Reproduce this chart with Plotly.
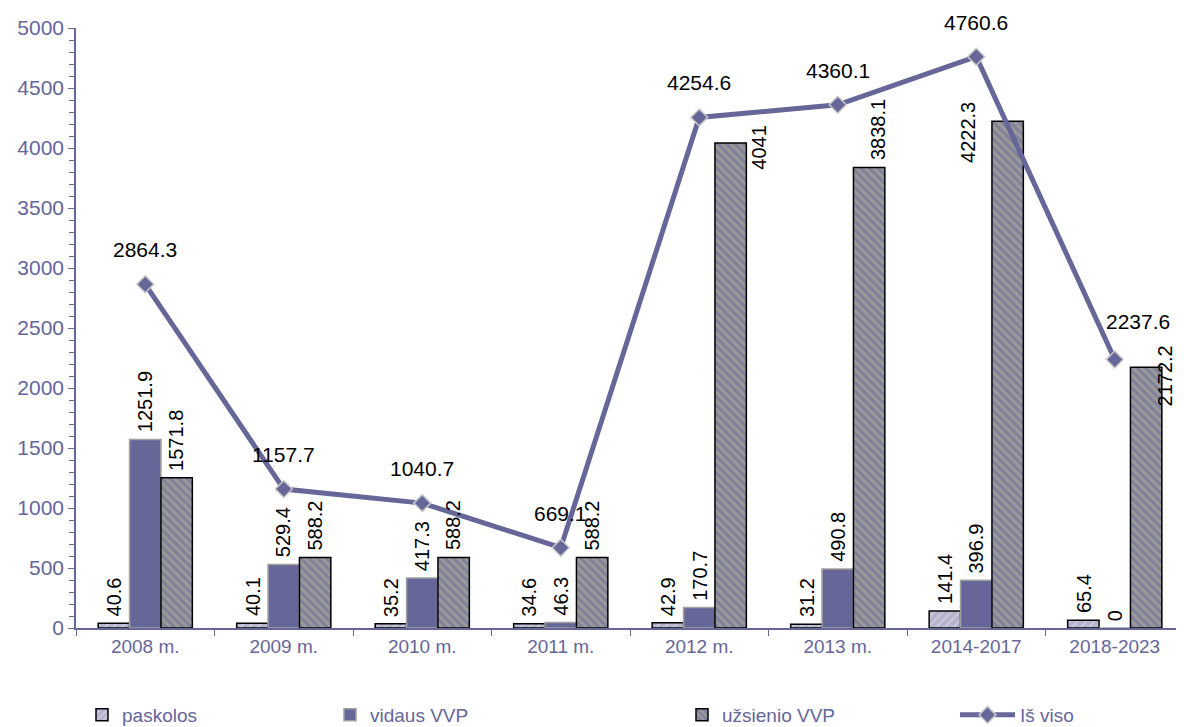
import plotly.graph_objects as go

categories = ["2008 m.", "2009 m.", "2010 m.", "2011 m.", "2012 m.", "2013 m.", "2014-2017", "2018-2023"]
paskolos = [40.6, 40.1, 35.2, 34.6, 42.9, 31.2, 141.4, 65.4]
paskolos_labels = ["40.6", "40.1", "35.2", "34.6", "42.9", "31.2", "141.4", "65.4"]
vidaus = [1571.8, 529.4, 417.3, 46.3, 170.7, 490.8, 396.9, 0]
vidaus_labels = ["1251.9", "529.4", "417.3", "46.3", "170.7", "490.8", "396.9", "0"]
uzsienio = [1251.9, 588.2, 588.2, 588.2, 4041, 3838.1, 4222.3, 2172.2]
uzsienio_labels = ["1571.8", "588.2", "588.2", "588.2", "4041", "3838.1", "4222.3", "2172.2"]
is_viso = [2864.3, 1157.7, 1040.7, 669.1, 4254.6, 4360.1, 4760.6, 2237.6]
is_viso_labels = ["2864.3", "1157.7", "1040.7", "669.1", "4254.6", "4360.1", "4760.6", "2237.6"]
y_ticks = [0, 500, 1000, 1500, 2000, 2500, 3000, 3500, 4000, 4500, 5000]

PURPLE = "#666699"
FONT = "Liberation Sans, Arial, sans-serif"
# page has an 8px body margin, so the figure is drawn 8px smaller than the window
W, H = 1176, 719
ML = 68

# manual label placement tweaks (pixel shifts), as in the original chart
NUDGE = {
    ("uzsienio", 4): dict(dx=28, dy=-4, anchor="middle"),
    ("uzsienio", 5): dict(dx=9, dy=5, anchor="bottom"),
    ("uzsienio", 6): dict(dx=-39, dy=-11, anchor="middle"),
    ("uzsienio", 7): dict(dx=19, dy=-9, anchor="middle"),
    ("total", 7): dict(dx=23, dy=24, anchor="bottom"),
}

fig = go.Figure()

fig.add_trace(go.Bar(
    name="paskolos", x=categories, y=paskolos, legend="legend",
    marker=dict(color="#b4b4cc", line=dict(color="black", width=1.5),
                pattern=dict(shape="/", fgcolor="#e8e8f0", bgcolor="#b4b4cc", size=6, solidity=0.3)),
))
fig.add_trace(go.Bar(
    name="vidaus VVP", x=categories, y=vidaus, legend="legend2",
    marker=dict(color=PURPLE, line=dict(color="#a0a0a0", width=1.5)),
))
fig.add_trace(go.Bar(
    name="užsienio VVP", x=categories, y=uzsienio, legend="legend3",
    marker=dict(color="#9a9a9a", line=dict(color="black", width=1.5),
                pattern=dict(shape="\\", fgcolor=PURPLE, bgcolor="#9a9a9a", size=6, solidity=0.5)),
))
fig.add_trace(go.Scatter(
    name="Iš viso", x=categories, y=is_viso, legend="legend4",
    mode="lines+markers",
    line=dict(color=PURPLE, width=5),
    marker=dict(symbol="diamond", size=13, color=PURPLE, line=dict(color="#c8c8c8", width=1.5)),
    cliponaxis=False,
))

# bar value labels (rotated), placed above each bar
bar_w = (W - ML) / len(categories) * (1 - 0.32) / 3
for key, vals, labels, off in [("paskolos", paskolos, paskolos_labels, -1),
                               ("vidaus", vidaus, vidaus_labels, 0),
                               ("uzsienio", uzsienio, uzsienio_labels, 1)]:
    for i, (c, v, t) in enumerate(zip(categories, vals, labels)):
        n = NUDGE.get((key, i), dict(dx=0, dy=5, anchor="bottom"))
        fig.add_annotation(x=c, y=v, text=t, showarrow=False, textangle=-90,
                           xanchor="center", yanchor=n["anchor"],
                           xshift=off * bar_w + n["dx"], yshift=n["dy"],
                           font=dict(family=FONT, size=20, color="black"))
# total labels
for i, (c, v, t) in enumerate(zip(categories, is_viso, is_viso_labels)):
    n = NUDGE.get(("total", i), dict(dx=0, dy=21, anchor="bottom"))
    fig.add_annotation(x=c, y=v, text=t, showarrow=False,
                       xanchor="center", yanchor=n["anchor"], xshift=n["dx"], yshift=n["dy"],
                       font=dict(family=FONT, size=21, color="black"))

leg_common = dict(orientation="h", xref="container", yref="container", yanchor="middle",
                  y=(H - 707) / H, xanchor="left", bgcolor="rgba(0,0,0,0)",
                  font=dict(family=FONT, size=19, color=PURPLE))
fig.update_layout(
    width=W, height=H,
    margin=dict(l=ML, r=0, t=20, b=99, autoexpand=False),
    plot_bgcolor="white", paper_bgcolor="white",
    barmode="group", bargap=0.32, bargroupgap=0,
    font=dict(family=FONT, size=20, color=PURPLE),
    showlegend=True,
    legend=dict(leg_common, x=74 / W),
    legend2=dict(leg_common, x=322 / W),
    legend3=dict(leg_common, x=674 / W),
    legend4=dict(leg_common, x=947 / W, itemwidth=55),
)
fig.update_xaxes(
    showline=True, linecolor=PURPLE, linewidth=1.5,
    ticks="outside", tickcolor=PURPLE, ticklen=6, tickson="boundaries",
    tickfont=dict(family=FONT, size=19, color=PURPLE), showgrid=False,
)
fig.update_yaxes(
    range=[0, 5000], tickvals=y_ticks,
    showline=True, linecolor=PURPLE, linewidth=1.5,
    ticks="outside", tickcolor=PURPLE, ticklen=6,
    minor=dict(dtick=100, ticks="outside", ticklen=5, tickcolor=PURPLE, showgrid=False),
    tickfont=dict(family=FONT, size=21, color=PURPLE), showgrid=False, zeroline=False,
)

fig.write_html("out.html")
